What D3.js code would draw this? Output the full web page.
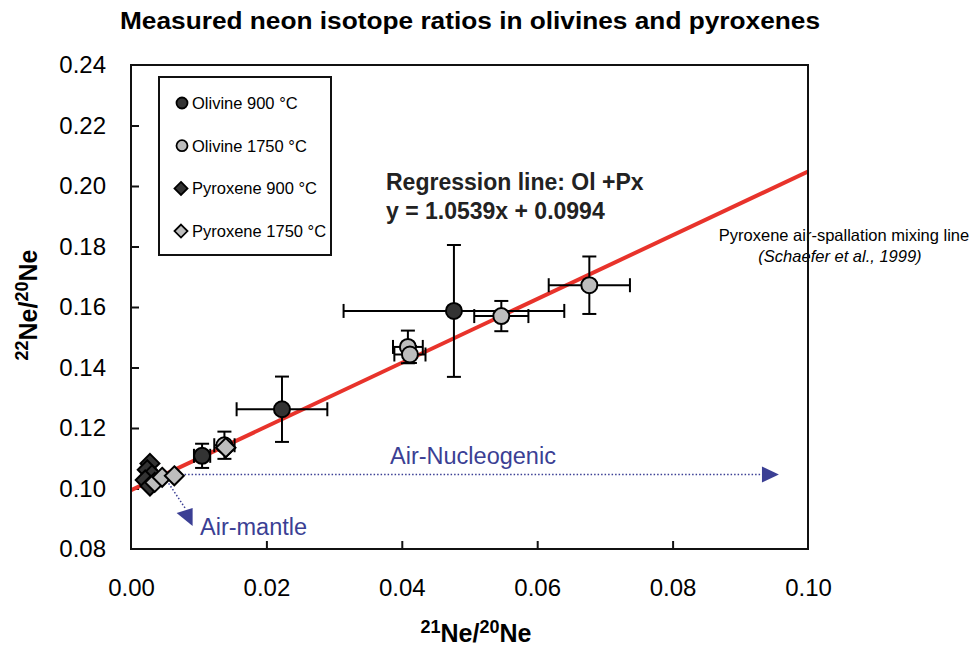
<!DOCTYPE html>
<html><head><meta charset="utf-8">
<script src="https://cdn.jsdelivr.net/npm/d3@7"></script>
<style>body{margin:0;background:#fff;font-family:"Liberation Sans",Arial,sans-serif;}</style>
</head><body><svg id="c" width="974" height="648"></svg>
<script>
// ---- data ----
const xTicks = [0.00, 0.02, 0.04, 0.06, 0.08, 0.10];
const yTicks = [0.08, 0.10, 0.12, 0.14, 0.16, 0.18, 0.20, 0.22, 0.24];
// [x, y, xErr, yErr]
const olivine900 = [
  [0.0105, 0.1108, 0.0012, 0.0040],
  [0.0223, 0.1262, 0.0067, 0.0108],
  [0.0477, 0.1587, 0.0163, 0.0218]
];
const olivine1750 = [
  [0.0138, 0.1143, 0.0015, 0.0045],
  [0.0409, 0.1468, 0.0022, 0.0054],
  [0.0412, 0.1443, 0.0023, 0.0028],
  [0.0547, 0.1570, 0.0040, 0.0050],
  [0.0677, 0.1672, 0.0060, 0.0095]
];
const pyroxene900 = [
  [0.0028, 0.1083],
  [0.0024, 0.1062],
  [0.0031, 0.1045],
  [0.0021, 0.1028],
  [0.0028, 0.1008]
];
const pyroxene1750 = [
  [0.0035, 0.1020],
  [0.0046, 0.1037],
  [0.0064, 0.1042],
  [0.0140, 0.1135]
];
const slope = 1.0539, intercept = 0.0994;
const legendLabels = ["Olivine 900 °C", "Olivine 1750 °C", "Pyroxene 900 °C", "Pyroxene 1750 °C"];

// ---- layout ----
const svg = d3.select("#c");
const L = 131, R = 808, T = 65, B = 549;
const x = d3.scaleLinear().domain([0, 0.10]).range([L, R]);
const y = d3.scaleLinear().domain([0.08, 0.24]).range([B, T]);
const darkFill = "#333333", lightFill = "#bdbdbd", blue = "#3b3f94";

// title
svg.append("text").attr("x", 470).attr("y", 29).attr("text-anchor", "middle")
  .attr("font-size", 23).attr("font-weight", "bold")
  .attr("textLength", 700).attr("lengthAdjust", "spacingAndGlyphs")
  .text("Measured neon isotope ratios in olivines and pyroxenes");

// axes
const gx = svg.append("g").attr("transform", `translate(0,${B})`)
  .call(d3.axisBottom(x).tickValues(xTicks).tickFormat(d3.format(".2f")).tickSizeInner(-8).tickSizeOuter(0).tickPadding(25));
const gy = svg.append("g").attr("transform", `translate(${L},0)`)
  .call(d3.axisLeft(y).tickValues(yTicks).tickFormat(d3.format(".2f")).tickSizeInner(-8).tickSizeOuter(0).tickPadding(25));
[gx, gy].forEach(g => {
  g.select(".domain").remove();
  g.selectAll("line").attr("stroke", "#111").attr("stroke-width", 2);
  g.selectAll("text").attr("font-size", 24).attr("fill", "#000").attr("font-family", "Liberation Sans, Arial, sans-serif");
});
gx.selectAll("text").attr("dy", "0.9em");
gy.selectAll("line").filter(d => d === 0.08 || d === 0.24).remove();
gx.selectAll("line").filter(d => d === 0 || d === 0.10).remove();

// axis titles
const xt = svg.append("text").attr("x", 476).attr("y", 642).attr("text-anchor", "middle")
  .attr("font-size", 25).attr("font-weight", "bold");
xt.append("tspan").attr("font-size", 18).attr("dy", -9).text("21");
xt.append("tspan").attr("dy", 9).text("Ne/");
xt.append("tspan").attr("font-size", 18).attr("dy", -9).text("20");
xt.append("tspan").attr("dy", 9).text("Ne");
const yt = svg.append("text").attr("transform", "translate(37,305) rotate(-90)").attr("text-anchor", "middle")
  .attr("font-size", 25).attr("font-weight", "bold");
yt.append("tspan").attr("font-size", 18).attr("dy", -9).text("22");
yt.append("tspan").attr("dy", 9).text("Ne/");
yt.append("tspan").attr("font-size", 18).attr("dy", -9).text("20");
yt.append("tspan").attr("dy", 9).text("Ne");

// annotation texts
svg.append("text").attr("x", 386).attr("y", 190).attr("font-size", 23).attr("font-weight", "bold").attr("fill", "#222")
  .text("Regression line: Ol +Px");
svg.append("text").attr("x", 386).attr("y", 219).attr("font-size", 23).attr("font-weight", "bold").attr("fill", "#222")
  .text("y = 1.0539x + 0.0994");
svg.append("text").attr("x", 844).attr("y", 241).attr("text-anchor", "middle").attr("font-size", 16.5)
  .text("Pyroxene air-spallation mixing line");
svg.append("text").attr("x", 840).attr("y", 262).attr("text-anchor", "middle").attr("font-size", 16.5).attr("font-style", "italic")
  .text("(Schaefer et al., 1999)");

// regression line
svg.append("clipPath").attr("id", "pc").append("rect").attr("x", L).attr("y", T).attr("width", R - L).attr("height", B - T);
svg.append("line").attr("clip-path", "url(#pc)")
  .attr("x1", x(0)).attr("y1", y(intercept)).attr("x2", x(0.10)).attr("y2", y(slope * 0.10 + intercept))
  .attr("stroke", "#e8332b").attr("stroke-width", 4);

// mixing arrows
const ay = y(0.1046);
svg.append("line").attr("x1", x(0.0043)).attr("y1", ay).attr("x2", x(0.0935)).attr("y2", ay)
  .attr("stroke", blue).attr("stroke-width", 1.5).attr("stroke-dasharray", "1.5,2");
svg.append("path").attr("d", `M${x(0.0932)},${ay - 8} L${x(0.0957)},${ay} L${x(0.0932)},${ay + 8} Z`).attr("fill", blue);
svg.append("line").attr("x1", x(0.0047)).attr("y1", ay).attr("x2", x(0.0080)).attr("y2", y(0.0935))
  .attr("stroke", blue).attr("stroke-width", 1.5).attr("stroke-dasharray", "1.5,2");
{
  const tx = x(0.0091), ty = y(0.0876);
  svg.append("path").attr("d", `M${tx},${ty} L${tx - 16},${ty - 13} L${tx},${ty - 18} Z`).attr("fill", blue);
}
svg.append("text").attr("x", 390).attr("y", 464).attr("font-size", 23.5).attr("fill", blue).text("Air-Nucleogenic");
svg.append("text").attr("x", 200).attr("y", 535).attr("font-size", 23.5).attr("fill", blue).text("Air-mantle");

// error bars
const errG = svg.append("g").attr("stroke", "#000").attr("stroke-width", 2);
const cap = 7;
[...olivine900, ...olivine1750].forEach(([px, py, ex, ey]) => {
  const cx = x(px), cy = y(py);
  errG.append("line").attr("x1", x(px - ex)).attr("x2", x(px + ex)).attr("y1", cy).attr("y2", cy);
  errG.append("line").attr("x1", x(px - ex)).attr("x2", x(px - ex)).attr("y1", cy - cap).attr("y2", cy + cap);
  errG.append("line").attr("x1", x(px + ex)).attr("x2", x(px + ex)).attr("y1", cy - cap).attr("y2", cy + cap);
  errG.append("line").attr("x1", cx).attr("x2", cx).attr("y1", y(py - ey)).attr("y2", y(py + ey));
  errG.append("line").attr("x1", cx - cap).attr("x2", cx + cap).attr("y1", y(py - ey)).attr("y2", y(py - ey));
  errG.append("line").attr("x1", cx - cap).attr("x2", cx + cap).attr("y1", y(py + ey)).attr("y2", y(py + ey));
});

// markers
const diamond = (cx, cy, s) => `M${cx},${cy - s} L${cx + s},${cy} L${cx},${cy + s} L${cx - s},${cy} Z`;
const mg = svg.append("g");
pyroxene900.forEach(([px, py]) => mg.append("path").attr("d", diamond(x(px), y(py), 9.5)).attr("fill", darkFill).attr("stroke", "#000").attr("stroke-width", 2));
pyroxene1750.forEach(([px, py]) => mg.append("path").attr("d", diamond(x(px), y(py), 9.5)).attr("fill", lightFill).attr("stroke", "#000").attr("stroke-width", 2));
olivine900.forEach(([px, py]) => mg.append("circle").attr("cx", x(px)).attr("cy", y(py)).attr("r", 8).attr("fill", darkFill).attr("stroke", "#000").attr("stroke-width", 2));
olivine1750.forEach(([px, py]) => mg.append("circle").attr("cx", x(px)).attr("cy", y(py)).attr("r", 8).attr("fill", lightFill).attr("stroke", "#000").attr("stroke-width", 2));
// the 1750 pyroxene near 0.014 sits on top of the olivine there
mg.append("path").attr("d", diamond(x(pyroxene1750[3][0]), y(pyroxene1750[3][1]), 9.5)).attr("fill", lightFill).attr("stroke", "#000").attr("stroke-width", 2);

// plot frame
svg.append("rect").attr("x", L).attr("y", T).attr("width", R - L).attr("height", B - T)
  .attr("fill", "none").attr("stroke", "#111").attr("stroke-width", 2);

// legend
const lg = svg.append("g");
lg.append("rect").attr("x", 159).attr("y", 77).attr("width", 172).attr("height", 178).attr("fill", "#fff").attr("stroke", "#111").attr("stroke-width", 2);
legendLabels.forEach((lab, i) => {
  const ly = 103 + i * 42.7;
  if (i < 2) lg.append("circle").attr("cx", 182).attr("cy", ly).attr("r", 5.5).attr("fill", i === 0 ? darkFill : lightFill).attr("stroke", "#000").attr("stroke-width", 1.8);
  else lg.append("path").attr("d", diamond(181, ly, 6.5)).attr("fill", i === 2 ? darkFill : lightFill).attr("stroke", "#000").attr("stroke-width", 1.8);
  lg.append("text").attr("x", 192).attr("y", ly + 6).attr("font-size", 16.5).text(lab);
});
</script></body></html>
